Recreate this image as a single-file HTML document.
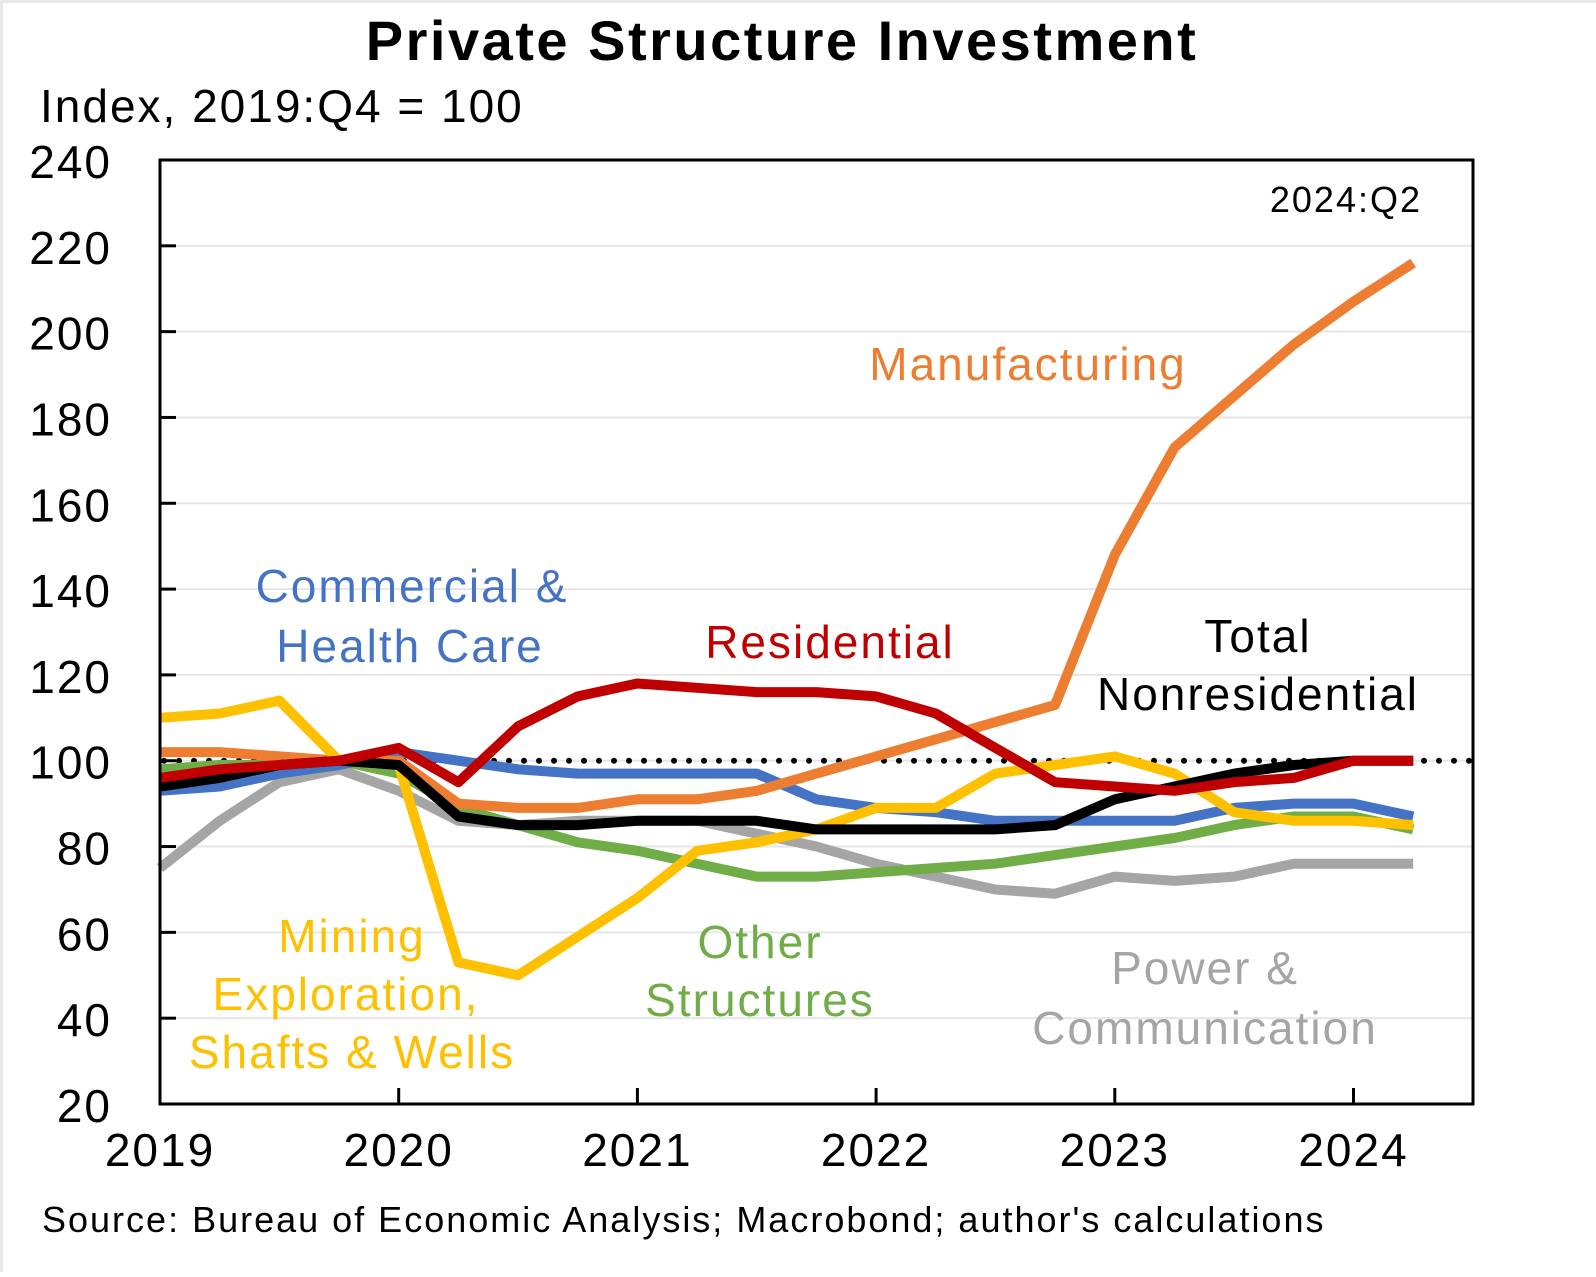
<!DOCTYPE html>
<html><head><meta charset="utf-8">
<style>
html,body{margin:0;padding:0;background:#fff;}
body{width:1596px;height:1272px;overflow:hidden;font-family:"Liberation Sans",sans-serif;}
svg text{font-family:"Liberation Sans",sans-serif;letter-spacing:2px;}
</style></head>
<body>
<svg id="chart" width="1596" height="1272" viewBox="0 0 1596 1272">
<rect x="0" y="0" width="1596" height="1272" fill="#fff"/>
<rect x="0" y="0" width="1596" height="3" fill="#e8e8e8"/>
<rect x="0" y="0" width="3" height="1272" fill="#e8e8e8"/>
<text x="782" y="60" text-anchor="middle" font-size="56" font-weight="bold" fill="#000" style="letter-spacing:2.5px">Private Structure Investment</text>
<text x="40" y="122" font-size="46" fill="#000">Index, 2019:Q4 = 100</text>
<g id="grid"></g>
<g id="yticks"></g>
<g id="xticks"></g>
<line id="refline" stroke="#000" stroke-width="6" stroke-dasharray="0 15" stroke-linecap="round"/>
<g id="series"></g>
<rect x="160" y="160" width="1313" height="944" fill="none" stroke="#000" stroke-width="3"/>
<text x="1422" y="212" text-anchor="end" font-size="36" fill="#000">2024:Q2</text>
<text x="1028" y="380" text-anchor="middle" font-size="46" fill="#ed7d31">Manufacturing</text>
<text x="412" y="602" text-anchor="middle" font-size="46" fill="#4472c4">Commercial &amp;</text>
<text x="410" y="662" text-anchor="middle" font-size="46" fill="#4472c4">Health Care</text>
<text x="830" y="658" text-anchor="middle" font-size="46" fill="#c00000">Residential</text>
<text x="1258" y="652" text-anchor="middle" font-size="46" fill="#000">Total</text>
<text x="1258" y="710" text-anchor="middle" font-size="46" fill="#000">Nonresidential</text>
<text x="352" y="952" text-anchor="middle" font-size="46" fill="#ffc000">Mining</text>
<text x="346" y="1010" text-anchor="middle" font-size="46" fill="#ffc000">Exploration,</text>
<text x="352" y="1068" text-anchor="middle" font-size="46" fill="#ffc000">Shafts &amp; Wells</text>
<text x="760" y="958" text-anchor="middle" font-size="46" fill="#70ad47">Other</text>
<text x="760" y="1016" text-anchor="middle" font-size="46" fill="#70ad47">Structures</text>
<text x="1205" y="984" text-anchor="middle" font-size="46" fill="#a5a5a5">Power &amp;</text>
<text x="1205" y="1044" text-anchor="middle" font-size="46" fill="#a5a5a5">Communication</text>
<text x="42" y="1232" font-size="36" fill="#000">Source: Bureau of Economic Analysis; Macrobond; author's calculations</text>
</svg>
<script>
const yTicks=[20,40,60,80,100,120,140,160,180,200,220,240];
const xYears=["2019","2020","2021","2022","2023","2024"];
const manufacturing=[102,102,101,100,100,90,89,89,91,91,93,97,101,105,109,113,148,173,185,197,207,216];
const residential=[96,98,99,100,103,95,108,115,118,117,116,116,115,111,103,95,94,93,95,96,100,100];
const commercial=[93,94,97,99,102,100,98,97,97,97,97,91,89,88,86,86,86,86,89,90,90,87];
const mining=[110,111,114,100,99,53,50,59,68,79,81,84,89,89,97,99,101,97,88,86,86,85];
const other=[98,99,99,100,97,89,85,81,79,76,73,73,74,75,76,78,80,82,85,87,87,84];
const power=[75,86,95,98,93,86,85,86,86,86,83,80,76,73,70,69,73,72,73,76,76,76];
const total=[94,96,99,100,99,87,85,85,86,86,86,84,84,84,84,85,91,94,97,99,100,100];
const NS='http://www.w3.org/2000/svg';
const X0=160,YW=238.7,Y0=160,Y1=1104;
function xq(i){return X0+i*YW/4;}
function yv(v){return Y1-(v-20)/220*(Y1-Y0);}
function mk(t,a,p){const e=document.createElementNS(NS,t);for(const k in a)e.setAttribute(k,a[k]);p.appendChild(e);return e;}
const grid=document.getElementById('grid'),yt=document.getElementById('yticks'),xt=document.getElementById('xticks');
yTicks.forEach(v=>{
  const y=yv(v);
  if(v>20&&v<240){const g=mk('line',{x1:X0,x2:1473,y1:y,y2:y,stroke:'#e6e6e6','stroke-width':2},grid);
  
  }
  const tk=mk('line',{x1:X0,x2:X0+16,y1:y,y2:y,stroke:'#000','stroke-width':3},yt);
  
  
  const t=mk('text',{x:112,y:y+18,'text-anchor':'end','font-size':46,fill:'#000'},yt);
  t.textContent=v;
  
  
});
xYears.forEach((s,i)=>{
  const x=X0+i*YW;
  const tk=mk('line',{x1:x,x2:x,y1:Y1,y2:Y1-16,stroke:'#000','stroke-width':3},xt);
  
  
  const t=mk('text',{x:x,y:1166,'text-anchor':'middle','font-size':46,fill:'#000'},xt);
  t.textContent=s;
  
  
});
const rl=document.getElementById('refline');
rl.setAttribute('x1',X0+4);rl.setAttribute('x2',1470);rl.setAttribute('y1',yv(100));rl.setAttribute('y2',yv(100));
const sg=document.getElementById('series');
[['power',power,'#a5a5a5'],['other',other,'#70ad47'],['commercial',commercial,'#4472c4'],['manufacturing',manufacturing,'#ed7d31'],['mining',mining,'#ffc000'],['total',total,'#000000'],['residential',residential,'#c00000']].forEach(([n,d,c])=>{
  const pts=d.map((v,i)=>xq(i).toFixed(1)+','+yv(v).toFixed(1)).join(' ');
  const p=mk('polyline',{points:pts,fill:'none',stroke:c,'stroke-width':10,'stroke-linejoin':'round'},sg);
  
  
});
</script>
</body></html>
